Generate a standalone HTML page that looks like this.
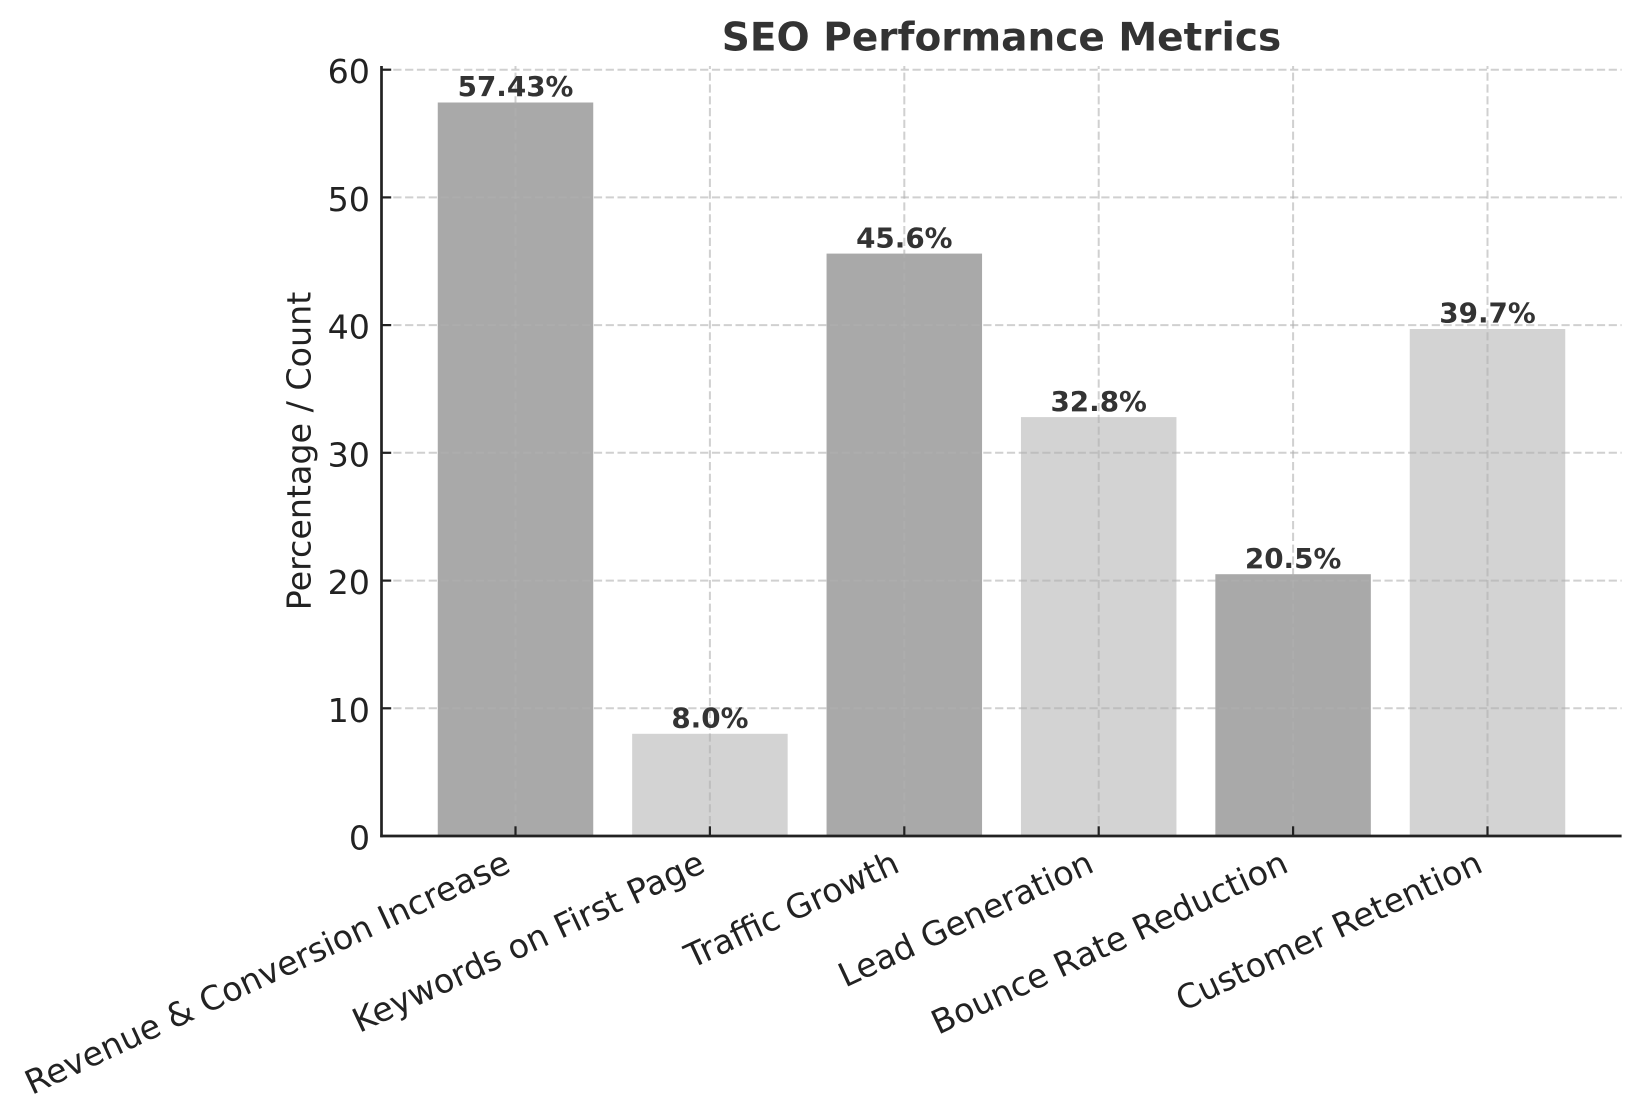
<!DOCTYPE html>
<html>
<head>
<meta charset="utf-8">
<style>
  html, body { margin: 0; padding: 0; background: #ffffff; }
  svg { display: block; }
  text { font-family: "DejaVu Sans", "Liberation Sans", sans-serif; }
</style>
</head>
<body>
<svg width="1641" height="1120" viewBox="0 0 1641 1120" xmlns="http://www.w3.org/2000/svg">
  <rect x="0" y="0" width="1641" height="1120" fill="#ffffff"/>

  <!-- Bars (y = 836 - v*12.772) -->
  <rect x="437.75" y="102.5" width="155.5" height="733.5" fill="#a9a9a9"/>
  <rect x="632.15" y="733.8" width="155.5" height="102.2" fill="#d3d3d3"/>
  <rect x="826.55" y="253.6" width="155.5" height="582.4" fill="#a9a9a9"/>
  <rect x="1020.95" y="417.1" width="155.5" height="418.9" fill="#d3d3d3"/>
  <rect x="1215.35" y="574.2" width="155.5" height="261.8" fill="#a9a9a9"/>
  <rect x="1409.75" y="329.0" width="155.5" height="507.0" fill="#d3d3d3"/>

  <!-- Grid -->
  <g stroke="#b0b0b0" stroke-opacity="0.6" stroke-width="2" stroke-dasharray="8.2 3.6" fill="none">
    <line x1="381.5" y1="69.7" x2="1621.6" y2="69.7"/>
    <line x1="381.5" y1="197.4" x2="1621.6" y2="197.4"/>
    <line x1="381.5" y1="325.1" x2="1621.6" y2="325.1"/>
    <line x1="381.5" y1="452.8" x2="1621.6" y2="452.8"/>
    <line x1="381.5" y1="580.6" x2="1621.6" y2="580.6"/>
    <line x1="381.5" y1="708.3" x2="1621.6" y2="708.3"/>
    <line x1="515.5" y1="836" x2="515.5" y2="66"/>
    <line x1="709.9" y1="836" x2="709.9" y2="66"/>
    <line x1="904.3" y1="836" x2="904.3" y2="66"/>
    <line x1="1098.7" y1="836" x2="1098.7" y2="66"/>
    <line x1="1293.1" y1="836" x2="1293.1" y2="66"/>
    <line x1="1487.5" y1="836" x2="1487.5" y2="66"/>
  </g>

  <!-- Spines -->
  <line x1="381.5" y1="66" x2="381.5" y2="837.3" stroke="#222" stroke-width="2.7"/>
  <line x1="380.2" y1="836" x2="1621.6" y2="836" stroke="#222" stroke-width="2.7"/>

  <!-- Ticks (inward) -->
  <g stroke="#222" stroke-width="2.2">
    <line x1="381.5" y1="69.7" x2="391.2" y2="69.7"/>
    <line x1="381.5" y1="197.4" x2="391.2" y2="197.4"/>
    <line x1="381.5" y1="325.1" x2="391.2" y2="325.1"/>
    <line x1="381.5" y1="452.8" x2="391.2" y2="452.8"/>
    <line x1="381.5" y1="580.6" x2="391.2" y2="580.6"/>
    <line x1="381.5" y1="708.3" x2="391.2" y2="708.3"/>
    <line x1="515.5" y1="836" x2="515.5" y2="826.3"/>
    <line x1="709.9" y1="836" x2="709.9" y2="826.3"/>
    <line x1="904.3" y1="836" x2="904.3" y2="826.3"/>
    <line x1="1098.7" y1="836" x2="1098.7" y2="826.3"/>
    <line x1="1293.1" y1="836" x2="1293.1" y2="826.3"/>
    <line x1="1487.5" y1="836" x2="1487.5" y2="826.3"/>
  </g>

  <!-- Y tick labels -->
  <g font-size="33.3" fill="#222" text-anchor="end">
    <text x="370" y="83.2">60</text>
    <text x="370" y="210.9">50</text>
    <text x="370" y="338.6">40</text>
    <text x="370" y="466.3">30</text>
    <text x="370" y="594.1">20</text>
    <text x="370" y="721.8">10</text>
    <text x="370" y="849.5">0</text>
  </g>

  <!-- Y label -->
  <text x="310.5" y="451" font-size="33.3" fill="#222" text-anchor="middle" transform="rotate(-90 310.5 451)">Percentage / Count</text>

  <!-- X tick labels -->
  <g font-size="33.3" fill="#222" text-anchor="end">
    <text x="512.5" y="871" transform="rotate(-25 512.5 871)">Revenue &amp; Conversion Increase</text>
    <text x="706.9" y="871" transform="rotate(-25 706.9 871)">Keywords on First Page</text>
    <text x="901.3" y="871" transform="rotate(-25 901.3 871)">Traffic Growth</text>
    <text x="1095.7" y="871" transform="rotate(-25 1095.7 871)">Lead Generation</text>
    <text x="1290.1" y="871" transform="rotate(-25 1290.1 871)">Bounce Rate Reduction</text>
    <text x="1484.5" y="871" transform="rotate(-25 1484.5 871)">Customer Retention</text>
  </g>

  <!-- Value labels -->
  <g font-size="27.8" font-weight="bold" fill="#333" text-anchor="middle">
    <text x="515.5" y="96.2">57.43%</text>
    <text x="709.9" y="727.5">8.0%</text>
    <text x="904.3" y="247.3">45.6%</text>
    <text x="1098.7" y="410.8">32.8%</text>
    <text x="1293.1" y="567.9">20.5%</text>
    <text x="1487.5" y="322.7">39.7%</text>
  </g>

  <!-- Title -->
  <text x="1001.5" y="50.5" font-size="39" font-weight="bold" fill="#333" text-anchor="middle">SEO Performance Metrics</text>
</svg>
</body>
</html>
